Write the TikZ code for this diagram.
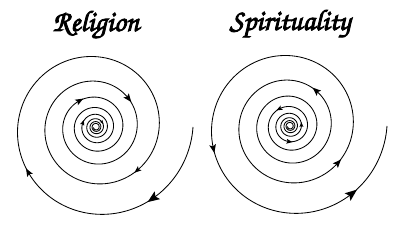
\documentclass[tikz,border=0pt]{standalone}
\usepackage[T1,TU]{fontenc}
\usepackage{tikz}
\newcommand{\chancery}{\fontencoding{T1}\fontfamily{pzc}\fontseries{mb}\fontshape{it}\selectfont}
% fake bold: fill and stroke the glyphs
\newcommand{\heavy}[1]{\special{pdf:literal direct 2 Tr 0.6 w}#1\special{pdf:literal direct 0 Tr}}
\tikzset{
  spiralline/.style={line width=0.6pt},
  title/.style={font={\chancery\fontsize{21}{25}\selectfont}},
}

\begin{document}
\begin{tikzpicture}[x=0.025cm,y=0.025cm]
  \useasboundingbox (0,0) rectangle (400,228);
  % Religion: arrows point inwards
  \node[title] (religion) at (96,203) {\heavy{Religion}};
  \begin{scope}[shift={(96,101)}]
    \draw[spiralline] plot[domain=0:-3050, samples=900, smooth] (\x:{97*exp(0.0011966*(\x))});
    \foreach \t/\s in {-51/12, -146/8, -406/7, -678/8.5, -957/8, -1637/5.5, -2120/4}
      \fill[shift={(\t:{97*exp(0.0011966*(\t))})}, rotate=\t-93.9, scale=\s] (0.6,0) -- (-0.4,0.4) -- (-0.2,0) -- (-0.4,-0.4) -- cycle;
  \end{scope}
  % Spirituality: arrows point outwards
  \node[title] (spirituality) at (290,204) {\heavy{Spirituality}};
  \begin{scope}[shift={(290,102)}]
    \draw[spiralline] plot[domain=0:-3050, samples=900, smooth] (\x:{97*exp(0.0011966*(\x))});
    \foreach \t/\s in {-48/12, -164/8.5, -398/8.5, -667/8.5, -1319/6, -1534/6, -1795/5}
      \fill[shift={(\t:{97*exp(0.0011966*(\t))})}, rotate=\t+86.1, scale=\s] (0.6,0) -- (-0.4,0.4) -- (-0.2,0) -- (-0.4,-0.4) -- cycle;
  \end{scope}
\end{tikzpicture}
\end{document}
